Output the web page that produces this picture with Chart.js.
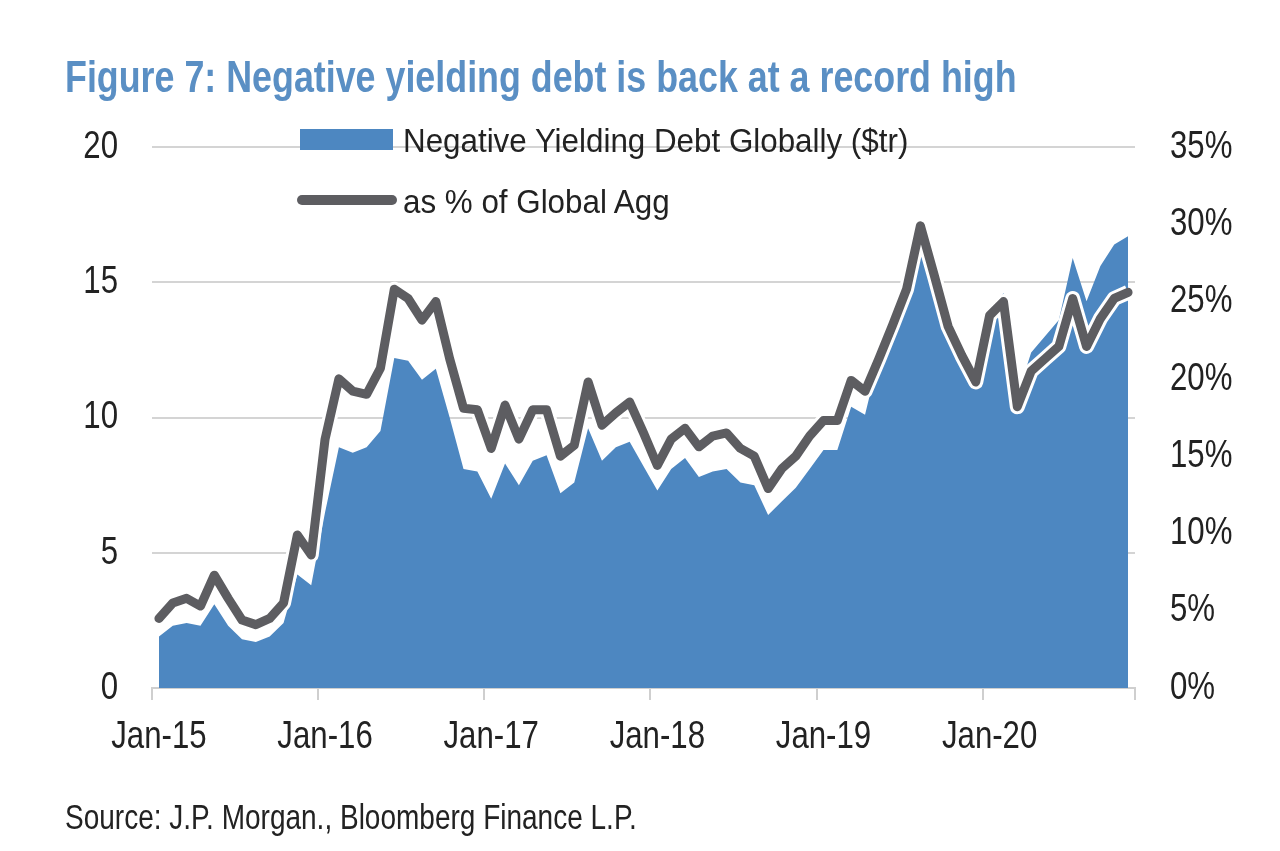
<!DOCTYPE html>
<html>
<head>
<meta charset="utf-8">
<script src="https://cdn.jsdelivr.net/npm/chart.js@4/dist/chart.umd.min.js"></script>
<style>
  body { margin: 0; background: #fff; }
  #wrap { position: relative; width: 1280px; height: 851px; font-family: "Liberation Sans", Arial, sans-serif; }
  #chart { position: absolute; left: 0; top: 0; }
  .narrow { transform-origin: left center; }
  .title { position: absolute; left: 65px; top: 52px; font-size: 44.5px; font-weight: bold; color: #5a8fc4; white-space: nowrap; transform: scaleX(0.805); transform-origin: left center; }
  .source { position: absolute; left: 65px; top: 797px; font-size: 35px; color: #222; white-space: nowrap; transform: scaleX(0.8); transform-origin: left center; }
  .leg { position: absolute; font-size: 33px; color: #222; white-space: nowrap; line-height: 1; transform: scaleX(0.95); transform-origin: left center; }
  .swatch { position: absolute; }
</style>
</head>
<body>
<div id="wrap">
  <canvas id="chart" width="1280" height="851"></canvas>
  <div class="title">Figure 7: Negative yielding debt is back at a record high</div>
  <div class="swatch" style="left:300px;top:129px;width:93px;height:21px;background:#4d87c1"></div>
  <div class="leg" style="left:403px;top:124px">Negative Yielding Debt Globally ($tr)</div>
  <div class="swatch" style="left:297px;top:195px;width:100px;height:10px;border-radius:5px;background:#5d5d61"></div>
  <div class="leg" style="left:403px;top:185px">as % of Global Agg</div>
  <div class="source">Source: J.P. Morgan., Bloomberg Finance L.P.</div>
</div>
<script>
// Month labels Jan-15 .. Nov-20
const monthNames = ['Jan', 'Feb', 'Mar', 'Apr', 'May', 'Jun', 'Jul', 'Aug', 'Sep', 'Oct', 'Nov', 'Dec'];
const years = ['15', '16', '17', '18', '19', '20'];
const months = [];
years.forEach(y => monthNames.forEach(m => months.push(m + '-' + y)));
months.length = 71;

// Negative yielding debt, $tr (left axis)
const debt = [
  1.9, 2.3, 2.4, 2.3, 3.1, 2.3, 1.8, 1.7, 1.9, 2.4, 4.2, 3.8,
  6.5, 8.9, 8.7, 8.9, 9.5, 12.2, 12.1, 11.4, 11.8, 10.0, 8.1, 8.0,
  7.0, 8.3, 7.5, 8.4, 8.6, 7.2, 7.6, 9.6, 8.4, 8.9, 9.1, 8.2,
  7.3, 8.1, 8.5, 7.8, 8.0, 8.1, 7.6, 7.5, 6.4, 6.9, 7.4, 8.1,
  8.8, 8.8, 10.4, 10.1, 12.2, 13.5, 14.8, 16.1, 15.0, 13.8, 12.7, 11.6,
  13.8, 14.6, 10.8, 12.4, 13.0, 13.6, 15.9, 14.3, 15.6, 16.4, 16.7
];

// as % of Global Agg (right axis)
const pctAgg = [
  4.5, 5.5, 5.8, 5.3, 7.3, 5.8, 4.4, 4.1, 4.5, 5.5, 9.9, 8.6,
  16.1, 20.0, 19.2, 19.0, 20.7, 25.8, 25.2, 23.8, 25.0, 21.3, 18.1, 18.0,
  15.5, 18.3, 16.1, 18.0, 18.0, 15.0, 15.7, 19.8, 17.0, 17.8, 18.5, 16.5,
  14.4, 16.1, 16.8, 15.6, 16.3, 16.5, 15.5, 15.0, 12.9, 14.2, 15.0, 16.3,
  17.3, 17.3, 19.9, 19.2, 21.3, 23.5, 25.8, 29.9, 26.7, 23.4, 21.5, 19.8,
  24.1, 25.0, 18.2, 20.5, 21.3, 22.1, 25.2, 22.1, 23.9, 25.2, 25.6
];

const leftTicks = [0, 5, 10, 15, 20];
const rightTicks = [0, 5, 10, 15, 20, 25, 30, 35];

const gridGray = '#d4d4d4';

Chart.defaults.font.family = '"Liberation Sans", Arial, sans-serif';
Chart.defaults.color = '#222';

// tick labels in the original are a narrow face: squeeze canvas text around its anchor
const narrowText = {
  id: 'narrowText',
  beforeDraw(chart) {
    const ctx = chart.ctx;
    if (ctx._narrow) return;
    const fill = ctx.fillText;
    ctx.fillText = function (text, x, y, maxWidth) {
      this.save();
      this.translate(x, y);
      this.scale(0.8, 1);
      if (maxWidth === undefined) fill.call(this, text, 0, 0);
      else fill.call(this, text, 0, 0, maxWidth / 0.8);
      this.restore();
    };
    ctx._narrow = true;
  }
};

new Chart(document.getElementById('chart'), {
  type: 'line',
  data: {
    labels: months,
    datasets: [
      {
        label: 'as % of Global Agg',
        data: pctAgg,
        yAxisID: 'y2',
        borderColor: '#5d5d61',
        borderWidth: 9,
        borderJoinStyle: 'round',
        borderCapStyle: 'round',
        pointRadius: 0,
        fill: false,
        order: 0
      },
      {
        label: 'halo',
        data: pctAgg,
        yAxisID: 'y2',
        borderColor: '#ffffff',
        borderWidth: 15,
        borderJoinStyle: 'round',
        pointRadius: 0,
        fill: false,
        order: 1
      },
      {
        label: 'Negative Yielding Debt Globally ($tr)',
        data: debt,
        yAxisID: 'y',
        backgroundColor: '#4d87c1',
        borderWidth: 0,
        pointRadius: 0,
        fill: 'origin',
        order: 2
      }
    ]
  },
  plugins: [narrowText],
  options: {
    responsive: false,
    animation: false,
    layout: { padding: { top: 147, left: 0, right: 0, bottom: 0 } },
    plugins: {
      legend: { display: false },
      tooltip: { enabled: false }
    },
    scales: {
      x: {
        offset: true,
        afterFit: (s) => { s.height = 163; },
        border: { display: true, color: '#cfcfcf', width: 2 },
        grid: {
          offset: true,
          drawOnChartArea: false,
          drawTicks: true,
          tickLength: 12,
          lineWidth: 2,
          color: (ctx) => (ctx.type !== 'tick' || ctx.index % 12 === 0) ? '#cfcfcf' : 'transparent'
        },
        ticks: {
          autoSkip: false,
          maxRotation: 0,
          padding: 14,
          font: { size: 39 },
          callback: (v, i) => i % 12 === 0 ? months[i] : ''
        }
      },
      y: {
        position: 'left',
        min: 0,
        max: 20,
        afterFit: (s) => { s.width = 152; },
        afterBuildTicks: (s) => { s.ticks = leftTicks.map(v => ({ value: v })); },
        border: { display: false },
        grid: { color: gridGray, lineWidth: 2, drawTicks: false },
        ticks: { padding: 34, font: { size: 39 } }
      },
      y2: {
        position: 'right',
        min: 0,
        max: 35,
        afterFit: (s) => { s.width = 1280 - 1135; },
        afterBuildTicks: (s) => { s.ticks = rightTicks.map(v => ({ value: v })); },
        border: { display: false },
        grid: { drawOnChartArea: false, drawTicks: false },
        ticks: { padding: 35, font: { size: 39 }, callback: (v) => v + '%' }
      }
    }
  }
});
</script>
</body>
</html>
